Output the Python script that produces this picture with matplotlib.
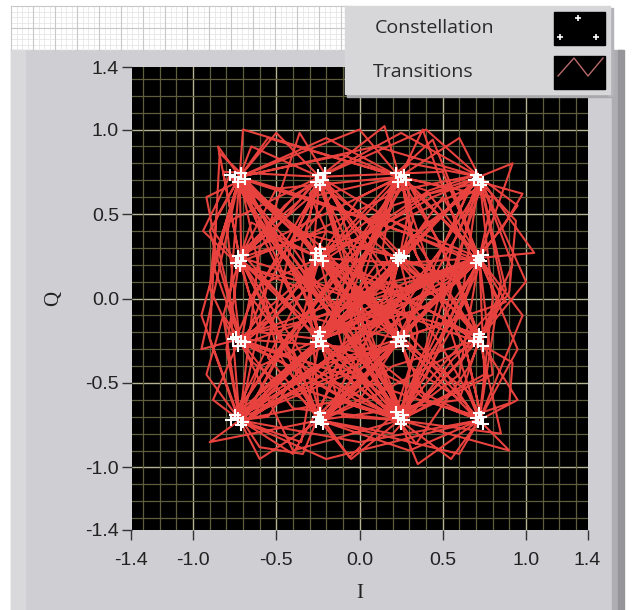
import matplotlib
matplotlib.use('Agg')
import matplotlib.pyplot as plt
from matplotlib.patches import Rectangle
import numpy as np

# 16-QAM levels (same for I and Q)
levels = [-0.72, -0.24, 0.24, 0.72]

# symbol sequence, level index for I and for Q
sym_i = [0, 2, 3, 1, 1, 0, 3, 2, 0, 1, 3, 3, 2, 0, 0, 1, 2, 3, 1, 0,
         2, 3, 0, 1, 2, 2, 3, 0, 1, 3, 0, 2, 1, 1, 3, 2, 0, 3, 1, 2,
         0, 0, 3, 1, 2, 3, 0, 2, 1, 0, 3, 1, 3, 2, 0, 1, 2, 0, 3, 3,
         1, 0, 2, 3, 1, 2, 0, 3, 0, 1, 2, 1, 3, 0, 2, 3, 1, 0, 0, 2,
         3, 1, 2, 0, 1, 3, 2, 2, 0, 3, 1, 0, 2, 3, 1, 1, 0, 2, 3, 0,
         1, 2, 3, 0, 0, 2, 1, 3, 2, 0, 1, 3, 0, 2, 3, 1, 2, 1, 0, 3,
         2, 0, 1, 3, 3, 1, 0, 2, 1, 3, 2, 0, 3, 1, 0, 2, 2, 3, 1, 0]
sym_q = [3, 1, 0, 2, 3, 1, 0, 3, 2, 0, 1, 3, 2, 0, 3, 1, 0, 2, 1, 3,
         0, 2, 3, 1, 0, 3, 2, 1, 0, 3, 1, 0, 2, 3, 1, 0, 2, 3, 0, 1,
         2, 3, 0, 1, 3, 2, 0, 1, 3, 0, 2, 1, 3, 0, 2, 3, 1, 0, 2, 3,
         1, 0, 3, 2, 1, 0, 3, 2, 0, 1, 3, 0, 2, 1, 3, 0, 2, 3, 1, 0,
         2, 1, 3, 0, 0, 2, 3, 1, 0, 3, 2, 1, 0, 3, 2, 1, 3, 0, 2, 1,
         3, 0, 1, 2, 3, 1, 0, 2, 3, 0, 1, 2, 0, 3, 1, 2, 0, 3, 2, 1,
         0, 3, 2, 1, 0, 3, 1, 0, 2, 3, 1, 0, 2, 1, 3, 0, 2, 1, 3, 2]

# two in-between samples of each transition (read/estimated)
mid1_i = [-0.48, 0.30, 0.52, -0.32, -0.30, -0.36, 0.64, 0.00, -0.66, 0.00,
          0.90, 0.66, 0.12, -0.90, -0.60, -0.14, 0.42, 0.38, -0.30, -0.40,
          0.34, 0.36, -0.56, -0.04, 0.34, 0.44, 0.20, -0.64, 0.10, 0.24,
          -0.50, 0.16, -0.20, -0.02, 0.66, -0.02, -0.34, 0.50, -0.16, 0.10,
          -0.94, -0.22, 0.40, -0.06, 0.36, 0.30, -0.40, 0.06, -0.42, -0.26,
          0.48, 0.02, 0.56, -0.08, -0.56, -0.12, 0.00, -0.30, 0.86, 0.46,
          -0.42, -0.46, 0.40, 0.40, -0.08, 0.02, -0.30, 0.26, -0.60, -0.12,
          0.08, 0.04, 0.34, -0.44, 0.34, 0.46, -0.36, -0.86, -0.46, 0.40,
          0.56, -0.08, 0.04, -0.60, 0.02, 0.62, 0.32, 0.02, -0.26, 0.44,
          -0.34, -0.42, 0.40, 0.42, -0.30, -0.34, -0.50, 0.36, 0.30, -0.64,
          -0.10, 0.38, 0.32, -0.88, -0.44, 0.12, 0.06, 0.60, 0.00, -0.58,
          0.04, 0.28, -0.46, 0.40, 0.44, -0.10, 0.08, -0.36, -0.28, 0.56,
          0.00, -0.62, 0.04, 0.92, 0.48, -0.36, -0.40, 0.08, 0.02, 0.58,
          0.04, -0.30, 0.42, -0.40, -0.44, 0.30, 0.36, 0.46, -0.38]
mid2_i = [-0.10, 0.64, 0.12, -0.16, -0.66, 0.36, 0.32, -0.50, -0.30, 0.50,
          0.94, 0.30, -0.48, -0.84, -0.42, 0.16, 0.84, 0.00, -0.62, 0.02,
          0.56, -0.32, -0.34, 0.16, 0.14, 0.66, -0.40, -0.34, 0.48, -0.36,
          -0.02, -0.06, -0.30, 0.46, 0.34, -0.46, 0.24, 0.00, 0.14, -0.40,
          -0.82, 0.28, 0.08, 0.12, 0.60, -0.24, -0.08, -0.14, -0.56, 0.40,
          0.04, 0.40, 0.40, -0.46, -0.36, 0.06, -0.50, 0.88, 0.98, 0.08,
          -0.60, -0.02, 0.62, 0.02, 0.12, -0.44, 0.30, -0.30, -0.36, 0.08,
          -0.10, 0.44, -0.28, 0.00, 0.64, 0.06, -0.62, -0.90, -0.06, 0.60,
          0.04, 0.14, -0.46, -0.34, 0.46, 0.34, 0.18, -0.48, 0.32, 0.04,
          -0.60, -0.04, 0.60, 0.02, -0.18, -0.56, -0.04, 0.62, -0.28, -0.36,
          0.10, 0.62, -0.34, -0.92, -0.02, -0.08, 0.44, 0.38, -0.46, -0.36,
          0.46, -0.30, -0.04, 0.62, 0.04, 0.12, -0.12, -0.60, 0.30, 0.36,
          -0.48, -0.36, 0.48, 0.90, 0.06, -0.58, -0.02, -0.08, 0.42, 0.38,
          -0.44, 0.30, 0.04, -0.60, -0.04, 0.18, 0.62, 0.04, -0.60]
mid1_q = [0.52, -0.40, -0.44, 0.40, 0.48, -0.36, -0.30, 0.60, 0.02, -0.62,
          0.04, 0.64, 0.06, -0.24, 0.40, -0.38, -0.48, 0.12, 0.04, 0.30,
          -0.46, 0.36, 0.44, -0.40, -0.28, 0.94, 0.10, -0.38, -0.32, 0.46,
          -0.36, -0.44, 0.40, 0.42, -0.40, -0.46, 0.36, 0.30, -0.64, -0.12,
          0.40, 0.30, -0.60, 0.00, 0.62, 0.04, -0.92, 0.02, 0.28, -0.40,
          0.06, 0.06, 0.32, -0.46, 0.38, 0.52, -0.34, -0.42, 0.42, 0.46,
          -0.40, -0.26, 0.64, 0.12, -0.36, -0.30, 0.58, 0.02, -0.62, 0.04,
          0.30, -0.44, 0.08, 0.00, 0.26, -0.42, 0.40, 0.48, -0.38, -0.46,
          0.08, 0.02, 0.28, -0.88, -0.46, 0.36, 0.46, -0.38, -0.28, 0.60,
          0.12, -0.40, -0.32, 0.62, 0.08, 0.04, 0.30, -0.42, 0.10, 0.00,
          0.28, -0.60, -0.12, 0.40, 0.46, -0.38, -0.44, 0.38, 0.30, -0.62,
          -0.10, 0.02, -0.28, 0.48, -0.08, 0.06, -0.32, 0.58, 0.10, -0.36,
          -0.30, 0.60, 0.10, -0.38, -0.26, 0.44, -0.36, -0.46, 0.38, 0.48,
          -0.40, -0.44, 0.12, 0.02, 0.30, -0.42, 0.08, 0.04, 0.62]
mid2_q = [0.04, -0.62, -0.04, 0.62, 0.00, -0.60, 0.30, 0.36, -0.46, -0.36,
          0.46, 0.34, -0.48, 0.86, 0.04, -0.58, -0.02, -0.08, 0.46, -0.30,
          -0.02, 0.60, 0.06, -0.62, 0.30, 0.40, -0.12, -0.60, 0.28, 0.02,
          -0.64, 0.00, 0.62, 0.04, -0.86, -0.02, 0.64, -0.30, -0.34, 0.08,
          0.64, -0.28, -0.34, 0.44, 0.36, -0.46, -0.36, 0.48, -0.30, -0.04,
          -0.12, 0.44, -0.28, 0.00, 0.98, 0.04, -0.60, -0.02, 0.62, 0.04,
          -0.60, 0.28, 0.36, -0.10, -0.62, 0.30, 0.38, -0.44, -0.38, 0.44,
          -0.28, -0.02, -0.12, 0.46, -0.30, -0.04, 0.62, 0.06, -0.94, 0.00,
          -0.12, 0.46, -0.30, -0.92, -0.02, 0.62, 0.04, -0.60, 0.30, 0.38,
          -0.10, -0.62, 0.28, 0.36, -0.08, 0.46, -0.26, -0.04, -0.12, 0.48,
          -0.30, -0.36, 0.10, 0.60, 0.04, -0.60, -0.04, 1.00, -0.28, -0.34,
          0.12, -0.46, 0.30, 0.04, 0.10, -0.44, 0.28, 0.38, -0.10, -0.62,
          0.30, 0.36, -0.10, -0.62, 0.30, 0.02, -0.60, -0.04, 0.64, 0.04,
          -0.60, -0.02, -0.12, 0.46, -0.28, -0.04, -0.10, 0.48, 0.36]

# further stretches of the transition trace (sample points, read/estimated)
trace2_i = [-0.72, -0.90, -0.72, -0.40, 0.24, 0.60, 0.72, 0.40, -0.24, -0.60,
            -0.72, -0.20, 0.72, 0.95, 0.72, 0.10, -0.24, -0.50, -0.72, -0.85,
            -0.72, -0.20, 0.24, 0.45, 0.24, 0.00, -0.24, -0.55, -0.24, 0.20,
            0.72, 1.00, 0.72, 0.10, -0.72, -0.95, -0.72, -0.10, 0.24, 0.50,
            0.72, 0.80, 0.24, -0.30, -0.72, -0.50, 0.24, 0.60, 0.72, 0.85,
            0.72, 0.30, -0.24, -0.30, -0.24, -0.50, -0.72, -0.78, -0.72, -0.90,
            -0.24, 0.20, 0.72, 0.40, -0.24, -0.65, -0.72, -0.35, 0.24, 0.65,
            0.72, 0.90, 0.24, -0.10, -0.24, 0.00, 0.24, 0.00, -0.72, -0.40,
            0.24, 0.55, 0.72, 0.95, 0.72, 0.00, -0.72, -0.60, -0.24, 0.10,
            0.72, 1.05, 0.72, 0.45, -0.24, -0.55, -0.72, -0.92, -0.72, -0.45,
            -0.24, 0.05, 0.24, 0.35, 0.24, 0.55, 0.72, 0.55, 0.72, 0.95,
            0.72, 0.25, -0.24, -0.35, -0.24, -0.15, 0.24, 0.10, -0.72, -0.88,
            -0.72, -0.45, 0.24, 0.30, 0.24, -0.10, -0.72, -0.85, -0.72, -0.55,
            -0.24, 0.20, 0.72, 0.88, 0.72, 0.60, 0.24, 0.00, -0.24, -0.50,
            -0.72, -0.55, 0.24, 0.50, 0.72, 0.60, -0.24, -0.60, -0.72, -0.82]
trace2_q = [0.72, 0.40, -0.24, -0.90, -0.72, -0.10, 0.72, 1.00, 0.72, 0.30,
            -0.72, -0.95, -0.72, -0.30, 0.24, 0.50, 0.24, -0.10, -0.24, 0.30,
            0.72, 0.95, 0.72, 0.10, -0.24, -0.60, -0.72, -0.35, 0.24, 0.05,
            -0.24, 0.10, 0.72, 0.90, 0.72, -0.10, -0.72, -0.60, 0.24, 0.60,
            0.24, -0.45, -0.72, -0.40, 0.24, 0.65, 0.72, 0.95, 0.72, 0.10,
            -0.72, -0.90, -0.72, 0.00, 0.72, 0.98, 0.72, 0.00, -0.72, -0.85,
            -0.72, -0.40, -0.24, 0.20, 0.24, 0.45, 0.24, -0.10, -0.24, -0.55,
            -0.72, -0.90, -0.72, -0.30, 0.24, 0.60, 0.72, 1.00, 0.72, 0.40,
            0.24, -0.05, -0.24, -0.60, -0.72, -0.85, -0.72, -0.40, -0.24, 0.20,
            0.24, 0.27, 0.72, 0.45, -0.24, -0.70, -0.72, -0.45, 0.24, 0.55,
            0.72, 0.45, 0.24, -0.20, -0.72, -0.95, -0.72, -0.20, 0.24, 0.55,
            0.72, 0.98, 0.72, 0.30, -0.24, -0.50, -0.72, -0.30, -0.24, -0.60,
            -0.72, -0.45, 0.24, 0.55, 0.72, 0.85, 0.72, 0.90, 0.24, -0.10,
            -0.72, -0.80, -0.24, 0.05, 0.72, 0.40, -0.24, -0.10, 0.24, 0.35,
            0.72, 0.95, 0.72, 0.30, -0.24, -0.60, -0.72, -0.95, -0.72, -0.10]
trace3_i = [-0.72, -0.80, -0.24, 0.30, 0.72, 0.85, 0.24, -0.30, -0.72, -0.82,
            -0.24, 0.10, 0.24, 0.40, 0.72, 0.80, 0.72, 0.30, -0.24, -0.40,
            -0.24, -0.05, 0.24, 0.45, 0.72, 0.80, 0.24, -0.30, -0.72, -0.60,
            -0.24, 0.15, 0.72, 0.60, -0.24, -0.50, -0.72, -0.70, 0.24, 0.55,
            0.72, 0.40, -0.24, -0.60, -0.72, -0.80, -0.72, -0.20, 0.24, 0.60,
            0.72, 0.92, 0.72, 0.20, -0.24, -0.10, 0.24, 0.60, 0.72, 0.50,
            -0.24, -0.65, -0.72, -0.88, -0.72, -0.40, 0.24, 0.35, 0.72, 0.98,
            0.72, 0.30, -0.24, -0.55, -0.72, -0.35, -0.24, 0.05, 0.24, 0.15,
            -0.24, -0.10, 0.24, 0.50, 0.72, 0.92, 0.72, 0.75, 0.24, -0.10,
            -0.72, -0.95, -0.72]
trace3_q = [-0.24, 0.45, 0.72, 0.40, -0.24, -0.80, -0.72, -0.55, 0.24, 0.75,
            0.72, 0.20, -0.24, -0.60, -0.72, 0.00, 0.72, 0.80, 0.24, -0.30,
            -0.72, -0.95, -0.72, -0.30, 0.24, 0.60, 0.72, 0.60, 0.24, -0.20,
            -0.24, -0.45, -0.72, -0.92, -0.72, -0.30, 0.72, 1.00, 0.72, 0.65,
            0.24, -0.05, -0.24, -0.55, -0.72, -0.30, 0.24, 0.40, 0.24, 0.10,
            -0.24, 0.20, 0.72, 0.55, -0.24, -0.70, -0.72, -0.45, 0.24, 0.75,
            0.72, 0.90, 0.72, 0.20, -0.24, -0.65, -0.72, -0.98, -0.72, -0.10,
            0.24, 0.05, 0.24, 0.10, -0.72, -0.85, -0.24, 0.30, 0.72, 1.02,
            0.72, 0.30, -0.24, -0.15, 0.72, 0.80, 0.24, -0.45, -0.72, -0.45,
            -0.24, -0.30, 0.72]

# received constellation samples (white markers), 5 per cluster,
# clusters ordered top row first, left to right
const_i = [-0.75, -0.71, -0.73, -0.69, -0.78, -0.25, -0.22, -0.26, -0.21, -0.24,
           0.25, 0.22, 0.28, 0.23, 0.27, 0.71, 0.74, 0.70, 0.73, 0.69,
           -0.73, -0.71, -0.74, -0.70, -0.72, -0.23, -0.26, -0.22, -0.27, -0.24,
           0.25, 0.23, 0.27, 0.24, 0.22, 0.71, 0.73, 0.70, 0.74, 0.72,
           -0.71, -0.74, -0.69, -0.73, -0.76, -0.23, -0.25, -0.22, -0.26, -0.24,
           0.25, 0.23, 0.26, 0.22, 0.27, 0.71, 0.73, 0.69, 0.74, 0.72,
           -0.73, -0.70, -0.75, -0.71, -0.77, -0.23, -0.25, -0.22, -0.26, -0.24,
           0.23, 0.26, 0.22, 0.27, 0.25, 0.71, 0.73, 0.70, 0.74, 0.72]
const_q = [0.72, 0.74, 0.69, 0.71, 0.73, 0.73, 0.70, 0.69, 0.74, 0.67,
           0.72, 0.74, 0.70, 0.69, 0.73, 0.71, 0.69, 0.73, 0.67, 0.70,
           0.25, 0.22, 0.21, 0.26, 0.19, 0.25, 0.27, 0.22, 0.23, 0.29,
           0.24, 0.22, 0.25, 0.26, 0.24, 0.25, 0.22, 0.21, 0.26, 0.23,
           -0.25, -0.23, -0.26, -0.28, -0.24, -0.25, -0.22, -0.28, -0.26, -0.20,
           -0.25, -0.23, -0.28, -0.26, -0.22, -0.26, -0.23, -0.25, -0.28, -0.21,
           -0.71, -0.73, -0.69, -0.75, -0.72, -0.72, -0.70, -0.74, -0.73, -0.68,
           -0.71, -0.69, -0.67, -0.72, -0.74, -0.73, -0.70, -0.71, -0.74, -0.68]

tick_vals = [-1.37, -1.0, -0.5, 0.0, 0.5, 1.0, 1.37]
tick_labels = ['-1.4', '-1.0', '-0.5', '0.0', '0.5', '1.0', '1.4']

# transition path: each symbol passes through one of its received samples,
# followed by the two in-between samples of the next transition
visits = [0] * 16
traj_i, traj_q = [], []
for k in range(len(sym_i)):
    cl = 4 * (3 - sym_q[k]) + sym_i[k]
    n = cl * 5 + visits[cl] % 5
    visits[cl] += 1
    traj_i.append(const_i[n])
    traj_q.append(const_q[n])
    if k < len(mid1_i):
        traj_i += [mid1_i[k], mid2_i[k]]
        traj_q += [mid1_q[k], mid2_q[k]]
traj_i += trace2_i + trace3_i
traj_q += trace2_q + trace3_q

W, H = 633, 610
fig = plt.figure(figsize=(W / 100, H / 100), dpi=100)
fig.patch.set_facecolor('white')

tick_font = ['Liberation Sans Narrow', 'Liberation Sans', 'DejaVu Sans']

# panel background (pixel coordinates)
bg = fig.add_axes([0, 0, 1, 1], zorder=-10)
bg.set_xlim(0, W)
bg.set_ylim(H, 0)
bg.axis('off')
bg.add_patch(Rectangle((11, 6), 340, 44, color='white'))
for x in np.arange(11, 351, 5.5):
    bg.plot([x, x], [6, 50], color='#e6e6e6', lw=0.6)
for y in np.arange(6, 50, 5.5):
    bg.plot([11, 351], [y, y], color='#e6e6e6', lw=0.6)
for x in np.arange(11, 351, 22):
    bg.plot([x, x], [6, 50], color='#c8c8c8', lw=0.8)
for y in np.arange(6, 50, 22):
    bg.plot([11, 351], [y, y], color='#c8c8c8', lw=0.8)
bg.add_patch(Rectangle((11, 50), 602, 560, color='#cfcfd3'))
bg.add_patch(Rectangle((11, 50), 14, 560, color='#d9d9dc'))
bg.add_patch(Rectangle((612, 50), 10, 560, color='#aeaeb2'))
bg.add_patch(Rectangle((618, 50), 6, 560, color='#96969a'))

# plot area
ax = fig.add_axes([131.5 / W, 1 - 530 / H, 456 / W, 463 / H])
ax.set_facecolor('black')
ax.set_xlim(-1.37, 1.37)
ax.set_ylim(-1.37, 1.37)
ax.set_xticks(tick_vals)
ax.set_xticklabels(tick_labels)
ax.set_yticks(tick_vals)
ax.set_yticklabels(tick_labels)
minor = np.round(np.arange(-1.3, 1.31, 0.1), 2)
ax.set_xticks(minor, minor=True)
ax.set_yticks(minor, minor=True)
ax.grid(which='minor', color='#5e5e3c', lw=0.9)
ax.grid(which='major', visible=False)
for v in [-1.0, -0.5, 0.0, 0.5, 1.0]:
    ax.axvline(v, color='#b4b494', lw=1.0, zorder=1)
    ax.axhline(v, color='#b4b494', lw=1.0, zorder=1)
ax.tick_params(which='minor', length=0)
ax.tick_params(which='major', direction='out', length=7, width=1,
               color='#333333', labelsize=14, labelcolor='#222222', pad=2)
ax.tick_params(axis='x', which='major', pad=9)
for lab in ax.get_xticklabels() + ax.get_yticklabels():
    lab.set_family(tick_font)
for s in ax.spines.values():
    s.set_visible(False)

ax.plot(traj_i, traj_q, color='#e8423e', lw=1.5, zorder=3)
ax.plot(const_i, const_q, '+', color='white', ms=8, mew=1.5, zorder=4)

ax.set_xlabel('I', fontsize=15, family='Liberation Serif', color='#222222', labelpad=11)
ax.set_ylabel('Q', fontsize=15, family='Liberation Serif', color='#222222', labelpad=16)

# legend box on top
lg = fig.add_axes([0, 0, 1, 1], zorder=10)
lg.set_xlim(0, W)
lg.set_ylim(H, 0)
lg.axis('off')
lg.patch.set_alpha(0)
lg.add_patch(Rectangle((347, 92), 266, 5, color='#a9a9ac'))
lg.add_patch(Rectangle((608, 8), 5, 88, color='#b4b4b8'))
lg.add_patch(Rectangle((345, 6), 265, 88, color='#d7d7da'))
lg.text(375, 28, 'Constellation', fontsize=14, family='Open Sans',
        color='#2a2a2a', va='center', ha='left')
lg.text(373, 72, 'Transitions', fontsize=14, family='Open Sans',
        color='#2a2a2a', va='center', ha='left')
lg.add_patch(Rectangle((554, 12), 51, 33, color='black'))
lg.add_patch(Rectangle((554, 56), 51, 33, color='black'))
lg.plot([578, 560, 596], [18, 37, 37], '+', color='white', ms=5, mew=1.2)
lg.plot([558, 574, 588, 603], [76, 58, 76, 58], color='#b86a6a', lw=1.0)

fig.savefig('out.png', dpi=100, facecolor='white')
